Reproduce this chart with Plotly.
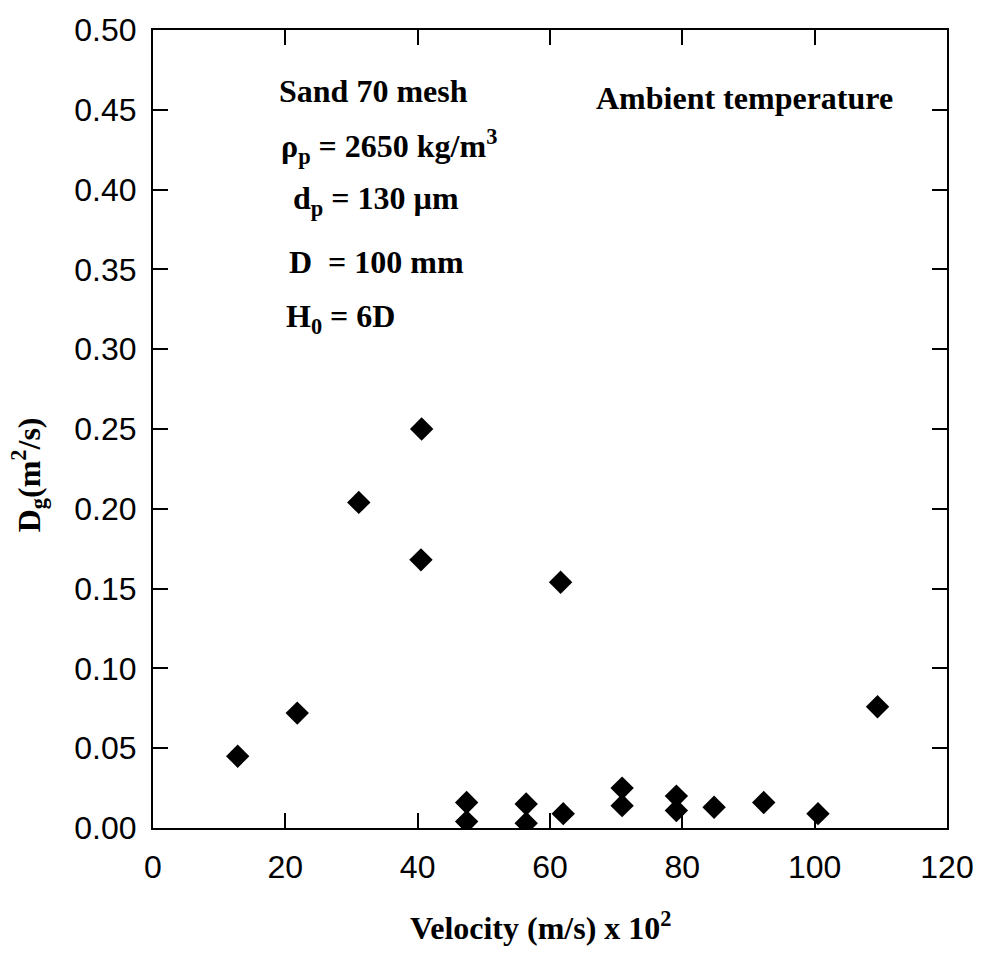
import plotly.graph_objects as go

# Data
velocity = [12.8, 21.8, 31.1, 40.6, 40.5, 47.4, 47.4, 56.4, 56.4, 62.0, 61.6,
            70.9, 70.9, 79.1, 79.1, 84.8, 92.3, 100.5, 109.5]
dg = [0.045, 0.072, 0.204, 0.250, 0.168, 0.016, 0.004, 0.015, 0.003, 0.009, 0.154,
      0.025, 0.014, 0.020, 0.011, 0.013, 0.016, 0.009, 0.076]

x_ticks = [0, 20, 40, 60, 80, 100, 120]
y_ticks = [0.00, 0.05, 0.10, 0.15, 0.20, 0.25, 0.30, 0.35, 0.40, 0.45, 0.50]

serif = "Liberation Serif"
sans = "Liberation Sans"

fig = go.Figure()
fig.add_trace(go.Scatter(
    x=velocity, y=dg, mode="markers",
    marker=dict(symbol="diamond", size=18, color="black", line=dict(width=0)),
    showlegend=False,
))

W, H = 986, 958
ml, mr, mt, mb = 153, 34, 22, 130

def px(xp):
    return (xp - ml) / (W - ml - mr)

def py(yp):
    return 1 - (yp - mt) / (H - mt - mb)

ann_font = dict(family=serif, size=32, color="black")
notes = [
    ("<b>Sand 70 mesh</b>", 278, 84),
    ("<b>ρ<sub>p</sub> = 2650 kg/m<sup>3</sup></b>", 280, 140),
    ("<b>d<sub>p</sub> = 130 µm</b>", 292, 194),
    ("<b>D  = 100 mm</b>", 288, 256),
    ("<b>H<sub>0</sub> = 6D</b>", 285, 313),
    ("<b>Ambient temperature</b>", 597, 91),
]
annotations = []
for txt, xp, yp in notes:
    annotations.append(dict(
        text=txt, x=px(xp), y=py(yp), xref="paper", yref="paper",
        xanchor="left", yanchor="middle", showarrow=False, font=ann_font,
    ))
# axis titles
annotations.append(dict(
    text="<b>Velocity (m/s) x 10<sup>2</sup></b>", x=px(543), y=py(927),
    xref="paper", yref="paper", xanchor="center", yanchor="middle",
    showarrow=False, font=ann_font,
))
annotations.append(dict(
    text="<b>D<sub>g</sub>(m<sup>2</sup>/s)</b>", x=px(28), y=py(471),
    xref="paper", yref="paper", xanchor="center", yanchor="middle",
    showarrow=False, font=ann_font, textangle=-90,
))

fig.update_layout(
    width=W, height=H,
    margin=dict(l=ml, r=mr, t=mt, b=mb),
    paper_bgcolor="white", plot_bgcolor="white",
    annotations=annotations,
    xaxis=dict(
        range=[0, 120], tickvals=x_ticks, ticktext=[str(v) for v in x_ticks],
        ticks="inside", ticklen=15, tickwidth=1.5, tickcolor="black",
        showline=True, linewidth=2, linecolor="black", mirror="ticks",
        showgrid=False, zeroline=False,
        tickfont=dict(family=sans, size=32, color="black"),
        ticklabelstandoff=10,
    ),
    yaxis=dict(
        range=[0, 0.5], tickvals=y_ticks, ticktext=[f"{v:.2f}" for v in y_ticks],
        ticks="inside", ticklen=15, tickwidth=1.5, tickcolor="black",
        showline=True, linewidth=2, linecolor="black", mirror="ticks",
        showgrid=False, zeroline=False,
        tickfont=dict(family=sans, size=32, color="black"),
        ticklabelstandoff=8,
    ),
)

fig.write_html("out.html")
